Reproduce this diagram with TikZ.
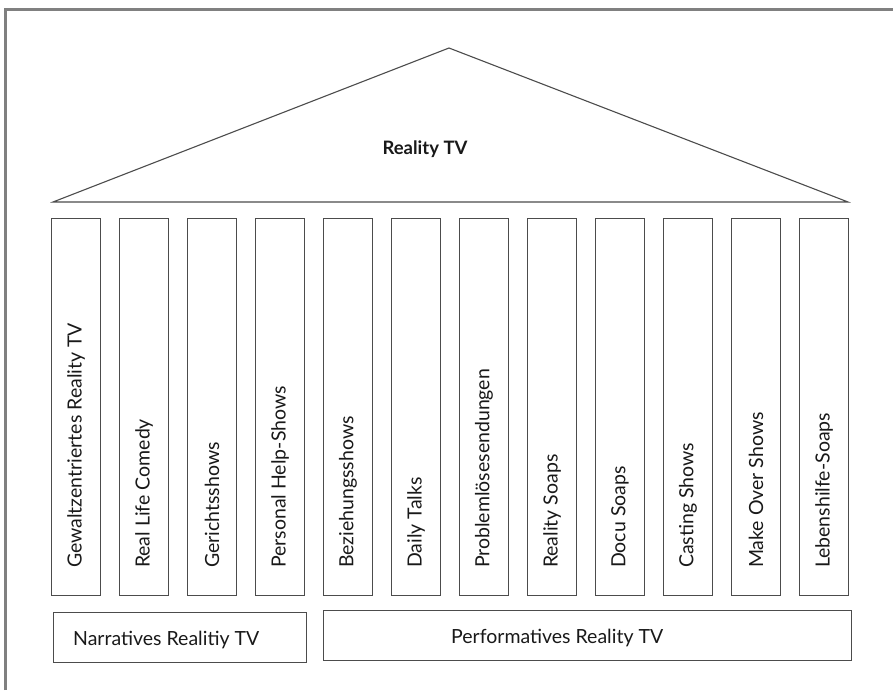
\documentclass[tikz,border=0pt]{standalone}
\usepackage{fontspec}
\setmainfont{Lato}
\begin{document}
\begin{tikzpicture}[x=1pt,y=-1pt,
  line/.style={draw=black!70,line width=1.1pt},
  pillar/.style={line,minimum width=49pt,minimum height=377pt,anchor=north west,inner sep=0pt},
  base/.style={line,minimum height=50pt,anchor=north west,inner sep=0pt},
  label/.style={text=black!90,font=\fontsize{19.5}{21}\selectfont,inner sep=0pt},
  pillartext/.style={label,rotate=90,anchor=west}]
\useasboundingbox (0,0) rectangle (893,690);
\fill[white] (0,0) rectangle (893,690);
% frame
\draw[black!50,line width=3pt] (5,690) -- (5,10) -- (893,10);
% roof
\coordinate (rl) at (53,202);
\coordinate (rt) at (449,48);
\coordinate (rr) at (848,202);
\draw[line,line join=miter] (rl) -- (rt) -- (rr) -- cycle;
\node[label,font=\fontsize{18.5}{20}\selectfont\bfseries] (roof) at (425,149) {Reality TV};
% pillars
\foreach \i/\t in {0/Gewaltzentriertes Reality TV,1/Real Life Comedy,2/Gerichtsshows,3/Personal Help-Shows,4/Beziehungsshows,5/Daily Talks,6/Problemlösesendungen,7/Reality Soaps,8/Docu Soaps,9/Casting Shows,10/Make Over Shows,11/Lebenshilfe-Soaps}{
  \node[pillar] (p\i) at ({51+68*\i},218) {};
  \node[pillartext] (t\i) at ([yshift=28pt]p\i.south) {\t};
}
% foundations
\node[base,minimum width=253pt] (narr) at (53,612) {};
\node[label,anchor=west] (narrtext) at (73,640) {Narratives Realitiy TV};
\node[base,minimum width=528pt] (perf) at (323,610) {};
\node[label,anchor=west] (perftext) at (451,638) {Performatives Reality TV};
\end{tikzpicture}
\end{document}
